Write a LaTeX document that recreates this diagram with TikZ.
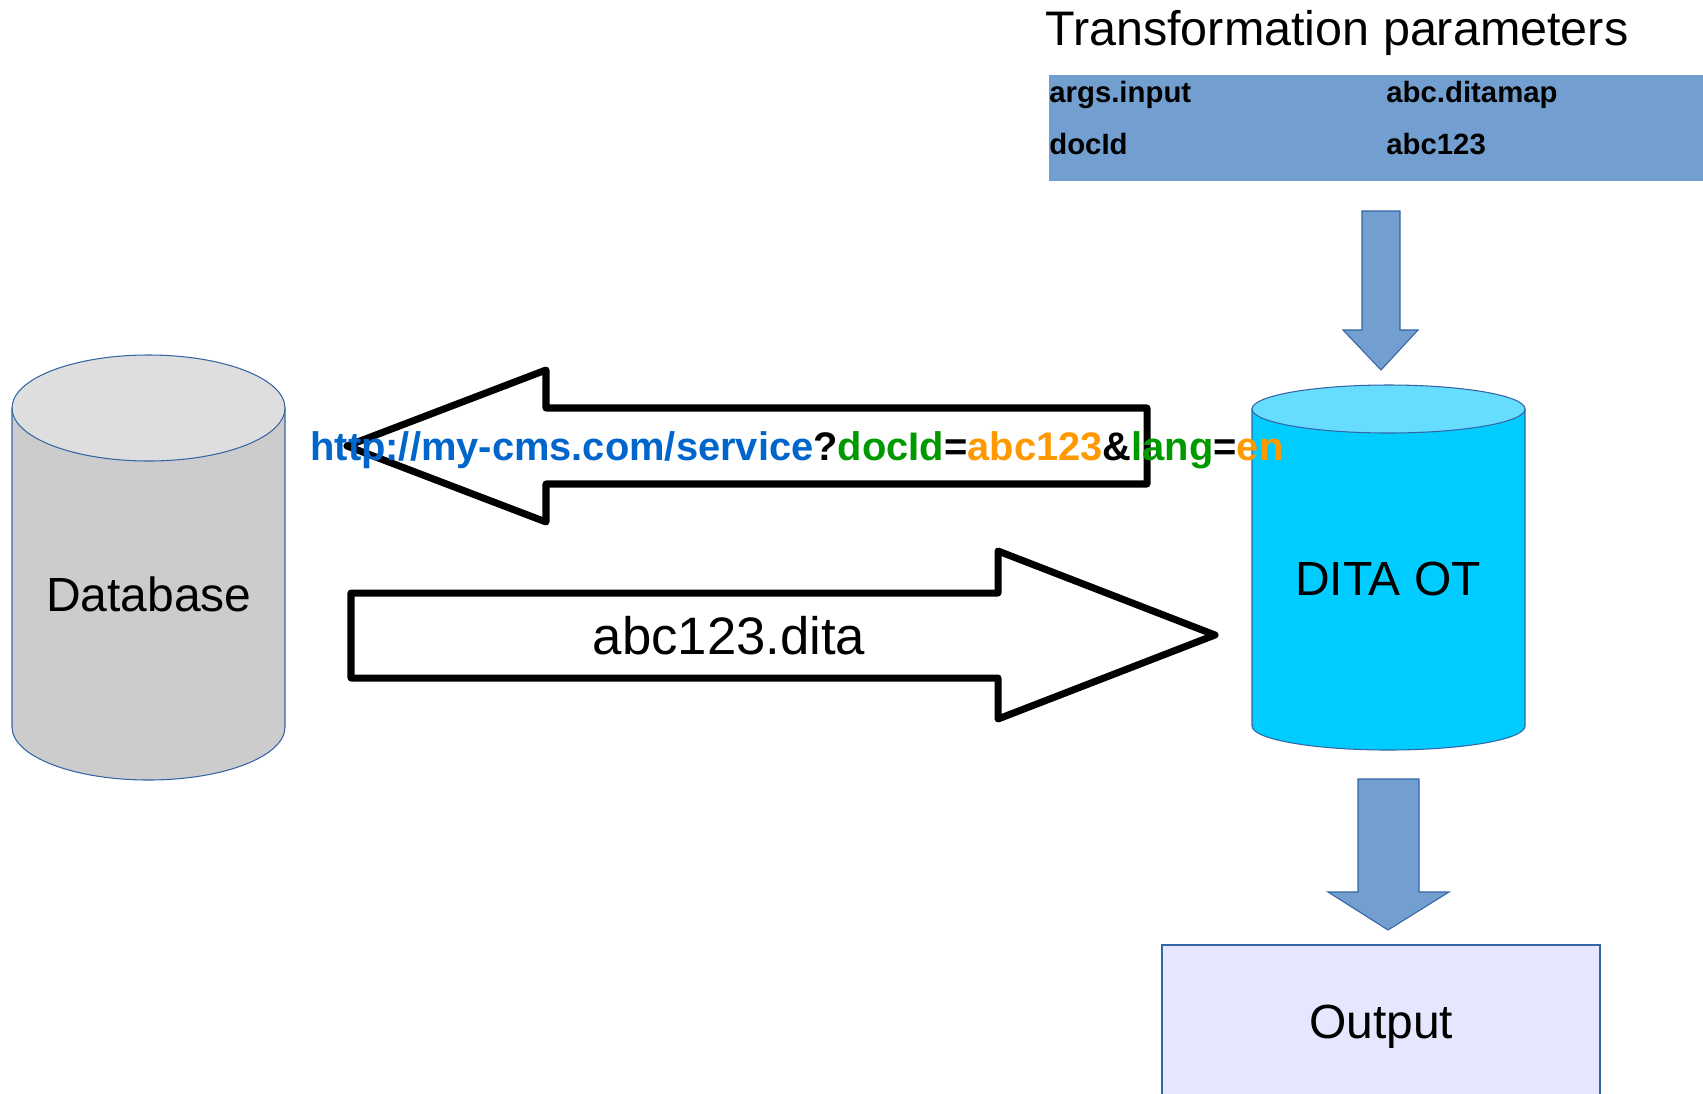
\documentclass[tikz,border=0pt]{standalone}
\usepackage{fontspec}
\setmainfont{Liberation Sans}
\usepackage{tikz}
\usetikzlibrary{calc}
\definecolor{paramblue}{HTML}{729FCF}
\definecolor{edgeblue}{HTML}{3465A4}
\definecolor{dbbody}{HTML}{CCCCCC}
\definecolor{dbtop}{HTML}{DEDEDE}
\definecolor{otbody}{HTML}{00CCFF}
\definecolor{ottop}{HTML}{66DDFF}
\definecolor{outfill}{HTML}{E6E6FF}
\definecolor{urlblue}{HTML}{0066CC}
\definecolor{urlgreen}{HTML}{009900}
\definecolor{urlorange}{HTML}{FF9900}
% drum: [body][top](x, top y, bottom y)(x radius, y radius)
\def\drum[#1][#2](#3,#4,#5)(#6,#7){\draw[line width=0.6pt, draw=edgeblue, fill=#1] (#3-#6, #4) -- (#3-#6, #5) arc (180:0:#6 and #7) -- (#3+#6, #4) -- cycle;
	\draw[line width=0.6pt, draw=edgeblue, fill=#2] (#3, #4) ellipse (#6 and #7);}

\begin{document}
\begin{tikzpicture}[x=0.02cm, y=-0.02cm,
		bigtext/.style={inner sep=0, font=\fontsize{27.3}{32}\selectfont},
		rowtext/.style={inner sep=0, anchor=base west, font=\fontsize{16.7}{20}\selectfont\bfseries},
		outlinearrow/.style={line width=4pt, line join=round, fill=white},
		flowarrow/.style={line width=0.6pt, draw=edgeblue, fill=paramblue}]
		%%%%% START %%%%%
		\clip (0, 0) rectangle (1703, 1093);
		\fill[white] (0, 0) rectangle (1703, 1093);
		
		\node[bigtext, anchor=base west, font=\fontsize{27.6}{32}\selectfont] (title) at (1045, 45) {Transformation parameters};
		\fill[paramblue] (1049, 75) rectangle (1710, 181);
		\node[rowtext] (argkey) at (1049, 102) {args.input};
		\node[rowtext] (argval) at (1386, 102) {abc.ditamap};
		\node[rowtext] (dockey) at (1049, 154) {docId};
		\node[rowtext] (docval) at (1386, 154) {abc123};
		
		\draw[flowarrow] (1362, 211) -- (1400, 211) -- (1400, 330) -- (1418, 330) -- (1381, 370) -- (1343, 330) -- (1362, 330) -- cycle;
		
		\drum[dbbody][dbtop](148.5, 408, 727)(136.5, 53)
		\node[bigtext] (db) at (149, 594) {Database};
		
		\drum[otbody][ottop](1388.5, 409, 726)(136.5, 24)
		\node[bigtext] (ditaot) at (1388, 579) {DITA OT};
		
		\draw[flowarrow] (1358, 779) -- (1419, 779) -- (1419, 892) -- (1449, 892) -- (1388, 930) -- (1328, 892) -- (1358, 892) -- cycle;
		
		\draw[line width=0.6pt, draw=edgeblue, fill=outfill] (1162, 945) rectangle (1600, 1110);
		\node[bigtext, anchor=base] (output) at (1381, 1038) {Output};
		
		\draw[outlinearrow] (1147, 408) -- (546, 408) -- (546, 370) -- (347, 446) -- (546, 522) -- (546, 484) -- (1147, 484) -- cycle;
		\draw[outlinearrow] (351, 593) -- (998, 593) -- (998, 551) -- (1215, 635) -- (998, 719) -- (998, 678) -- (351, 678) -- cycle;
		\node[inner sep=0, font=\fontsize{30}{36}\selectfont] (file) at (729, 636) {abc123.dita};
		
		\node[inner sep=0, anchor=base west, font=\fontsize{22.7}{27}\selectfont\bfseries] (url) at (310, 460)
			{\textcolor{urlblue}{http://my-cms.com/service}?\textcolor{urlgreen}{docId}=\textcolor{urlorange}{abc123}\&\textcolor{urlgreen}{lang}=\textcolor{urlorange}{en}};
		%%%%% END %%%%%
	\end{tikzpicture}
\end{document}
